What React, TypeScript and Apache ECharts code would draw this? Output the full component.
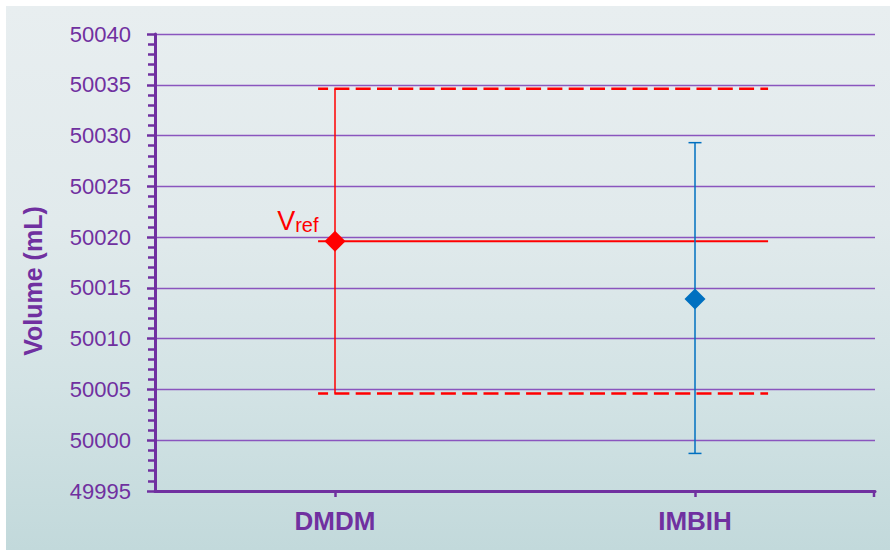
import React, { useEffect, useRef } from "react";
import * as echarts from "echarts";

// ---- data ----
const categories = ["DMDM", "IMBIH"];
const meanValues = [50019.6, 50013.9];
const lowerValues = [50004.6, 49998.7];
const upperValues = [50034.6, 50029.3];
const pointColors = ["#FF0000", "#0070C0"];
const capHalfWidths = [0, 6.5];

const yMin = 49995;
const yMax = 50040;
const yStep = 5;

// reference value (V_ref) and its uncertainty band
const vRef = 50019.6;
const vRefUpper = 50034.6;
const vRefLower = 50004.6;
// horizontal extent of the reference lines, in category-band units (0..2)
const refStart = 0.453;
const refEnd = 1.703;

const PURPLE = "#7030A0";

export default function App() {
  const ref = useRef<HTMLDivElement>(null);

  useEffect(() => {
    document.body.style.margin = "0";
    const chart = echarts.init(ref.current!, null, { renderer: "svg" });

    const refLine = (v: number, dashed: boolean, name: string) => ({
      name,
      type: "line",
      xAxisIndex: 1,
      yAxisIndex: 0,
      data: [
        [refStart, v],
        [refEnd, v],
      ],
      symbol: "none",
      silent: true,
      z: 3,
      lineStyle: {
        color: "#FF0000",
        width: dashed ? 2.5 : 2,
        type: dashed ? [15, 6.3] : "solid",
        dashOffset: dashed ? 4.6 : 0,
      },
    });

    chart.setOption({
      animation: false,
      backgroundColor: "transparent",
      grid: { left: 155, right: 15, top: 34, bottom: 59, containLabel: false },
      xAxis: [
        {
          type: "category",
          data: categories,
          boundaryGap: true,
          axisLine: { show: true, lineStyle: { color: PURPLE, width: 3 } },
          axisTick: {
            show: true,
            alignWithLabel: true,
            length: 6,
            lineStyle: { color: PURPLE, width: 2.5 },
          },
          axisLabel: {
            color: PURPLE,
            fontSize: 26,
            fontWeight: "bold",
            fontFamily: "'Liberation Sans', Arial, sans-serif",
            margin: 17,
          },
          splitLine: { show: false },
        },
        {
          type: "value",
          min: 0,
          max: 2,
          show: false,
        },
      ],
      yAxis: {
        type: "value",
        min: yMin,
        max: yMax,
        interval: yStep,
        axisLine: { show: true, lineStyle: { color: PURPLE, width: 3 } },
        axisTick: { show: true, length: 8, lineStyle: { color: PURPLE, width: 2.5 } },
        minorTick: {
          show: true,
          splitNumber: 5,
          length: 7,
          lineStyle: { color: PURPLE, width: 2.5 },
        },
        axisLabel: {
          color: PURPLE,
          fontSize: 22,
          fontFamily: "'Liberation Sans', Arial, sans-serif",
          margin: 24,
          formatter: (v: number) => String(v),
        },
        splitLine: { show: true, lineStyle: { color: "#8A55BE", width: 1.3 } },
      },
      graphic: [
        {
          type: "text",
          x: 33,
          y: 281,
          rotation: Math.PI / 2,
          style: {
            text: "Volume (mL)",
            fill: PURPLE,
            font: "bold 25px 'Liberation Sans', Arial, sans-serif",
            align: "center",
            verticalAlign: "middle",
          },
        },
        {
          type: "line",
          shape: { x1: 874, y1: 490, x2: 874, y2: 497 },
          style: { stroke: PURPLE, lineWidth: 2.5 },
        },
      ],
      series: [
        {
          name: "errorbars",
          type: "custom",
          xAxisIndex: 0,
          yAxisIndex: 0,
          z: 4,
          silent: true,
          data: categories.map((_, i) => [i, lowerValues[i], upperValues[i], capHalfWidths[i], i]),
          encode: { x: 0, y: [1, 2] },
          renderItem: (params: any, api: any) => {
            const idx = api.value(0);
            const lo = api.coord([idx, api.value(1)]);
            const hi = api.coord([idx, api.value(2)]);
            const cap = api.value(3);
            const color = pointColors[api.value(4)];
            const style = { stroke: color, lineWidth: 1.5 };
            const children: any[] = [
              { type: "line", shape: { x1: lo[0], y1: lo[1], x2: hi[0], y2: hi[1] }, style },
            ];
            if (cap > 0) {
              children.push(
                { type: "line", shape: { x1: lo[0] - cap, y1: lo[1], x2: lo[0] + cap, y2: lo[1] }, style },
                { type: "line", shape: { x1: hi[0] - cap, y1: hi[1], x2: hi[0] + cap, y2: hi[1] }, style }
              );
            }
            return { type: "group", children };
          },
        },
        refLine(vRef, false, "Vref"),
        refLine(vRefUpper, true, "Vref upper"),
        refLine(vRefLower, true, "Vref lower"),
        {
          name: "means",
          type: "scatter",
          xAxisIndex: 0,
          yAxisIndex: 0,
          symbol: "diamond",
          symbolSize: 21,
          z: 6,
          data: categories.map((_, i) => ({
            value: [i, meanValues[i]],
            itemStyle: { color: pointColors[i], opacity: 1 },
            label:
              i === 0
                ? {
                    show: true,
                    position: "left",
                    distance: 6,
                    offset: [0, -20],
                    formatter: "{v|V}{s|ref}",
                    rich: {
                      v: {
                        color: "#FF0000",
                        fontSize: 27,
                        lineHeight: 27,
                        verticalAlign: "top",
                        fontFamily: "'Liberation Sans', Arial, sans-serif",
                      },
                      s: {
                        color: "#FF0000",
                        fontSize: 20,
                        lineHeight: 20,
                        padding: [10, 0, 0, 0],
                        verticalAlign: "bottom",
                        fontFamily: "'Liberation Sans', Arial, sans-serif",
                      },
                    },
                  }
                : { show: false },
          })),
        },
      ],
    });

    return () => chart.dispose();
  }, []);

  return (
    <div style={{ position: "relative", width: 890, height: 550, background: "#ffffff", overflow: "hidden" }}>
      <div
        style={{
          position: "absolute",
          left: 6,
          top: 6,
          right: 0,
          bottom: 0,
          background:
            "linear-gradient(180deg, #E8EEF0 0%, #E1EAEC 40%, #D3E3E5 70%, #C2D9DB 100%)",
        }}
      />
      <div ref={ref} style={{ position: "absolute", left: 0, top: 0, width: 890, height: 550 }} />
    </div>
  );
}
